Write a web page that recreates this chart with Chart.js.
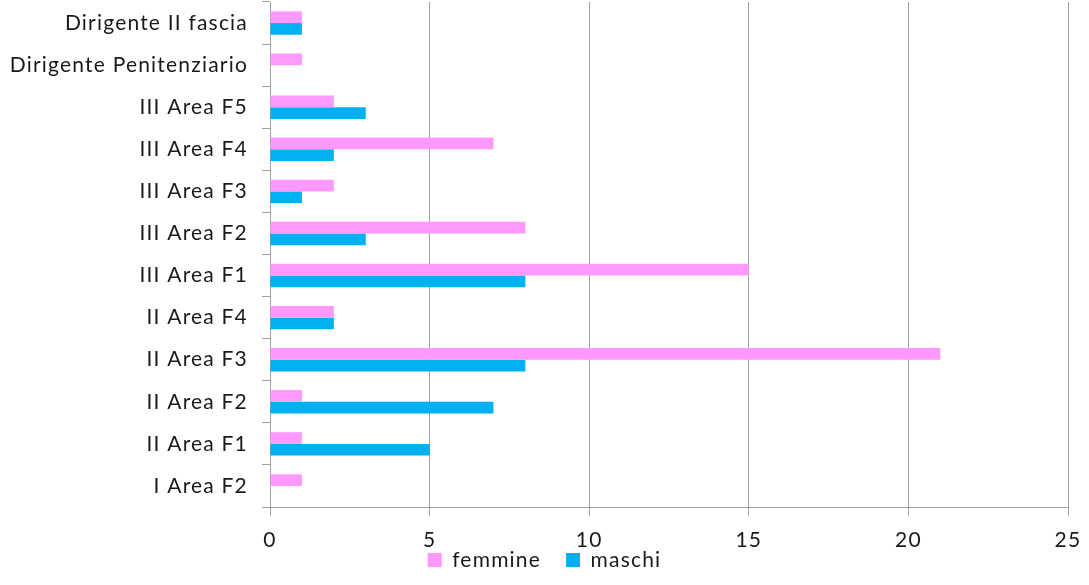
<!DOCTYPE html>
<html>
<head>
<meta charset="utf-8">
<script src="https://cdn.jsdelivr.net/npm/chart.js@4"></script>
<style>
html,body{margin:0;padding:0;background:#fff;}
#wrap{width:1089px;height:585px;position:relative;}
</style>
</head>
<body>
<div id="wrap"><canvas id="c" width="1089" height="585"></canvas></div>
<script>
const categories = ["Dirigente II fascia","Dirigente Penitenziario","III Area F5","III Area F4","III Area F3","III Area F2","III Area F1","II Area F4","II Area F3","II Area F2","II Area F1","I Area F2"];
const femmine = [1,1,2,7,2,8,15,2,21,1,1,1];
const maschi = [1,0,3,2,1,3,8,2,8,7,5,0];
const xTicks = [0,5,10,15,20,25];

const FONT = "Lato, 'Open Sans', sans-serif";
const GRID = "#a0a0a0";
const SPACING = '1.2px';
const LEGEND_PAD = 25;

const spacingPlugin = {
  id: 'spacing',
  beforeLayout(chart) { chart.ctx.letterSpacing = SPACING; },
  afterLayout(chart) {
    // let x tick labels draw below the (short) axis box without clipping
    const xs = chart.scales.x;
    xs.bottom = xs.top + 50;
    // place the legend row, centred on the canvas
    const lg = chart.legend;
    if (lg) {
      const h = lg.bottom - lg.top;
      lg.top = 560 - LEGEND_PAD - 10.5;
      lg.bottom = lg.top + h;
      lg.left = 10;
      lg.right = 1079;
    }
  },
  beforeDraw(chart) { chart.ctx.letterSpacing = SPACING; }
};

new Chart(document.getElementById('c'), {
  type: 'bar',
  data: {
    labels: categories,
    datasets: [
      {label: 'femmine', data: femmine, backgroundColor: '#ff99ff', borderWidth: 0, categoryPercentage: 0.555, barPercentage: 1},
      {label: 'maschi', data: maschi, backgroundColor: '#00b0f0', borderWidth: 0, categoryPercentage: 0.555, barPercentage: 1}
    ]
  },
  plugins: [spacingPlugin],
  options: {
    indexAxis: 'y',
    responsive: false,
    animation: false,
    layout: {padding: {top: 2, right: 21, bottom: 5, left: 0}},
    plugins: {
      tooltip: {enabled: false},
      legend: {
        position: 'bottom',
        labels: {
          font: {family: FONT, size: 21},
          color: '#1a1a1a',
          boxWidth: 14,
          boxHeight: 14,
          padding: LEGEND_PAD
        }
      }
    },
    scales: {
      x: {
        min: xTicks[0],
        max: xTicks[xTicks.length - 1],
        afterBuildTicks: s => { s.ticks = xTicks.map(v => ({value: v})); },
        afterFit: s => { s.height = 17; s.paddingLeft = 0; s.paddingRight = 0; },
        ticks: {font: {family: FONT, size: 21}, color: '#1a1a1a', padding: 12, maxRotation: 0, autoSkip: false},
        grid: {color: GRID, lineWidth: 1, tickLength: 9, drawTicks: true},
        border: {color: GRID, width: 1}
      },
      y: {
        afterFit: s => { s.width = 270; s.paddingTop = 0; s.paddingBottom = 0; },
        ticks: {font: {family: FONT, size: 21}, color: '#1a1a1a', padding: 14, autoSkip: false},
        grid: {drawOnChartArea: false, offset: true, color: GRID, tickLength: 8},
        border: {color: GRID, width: 1}
      }
    }
  }
});
</script>
</body>
</html>
